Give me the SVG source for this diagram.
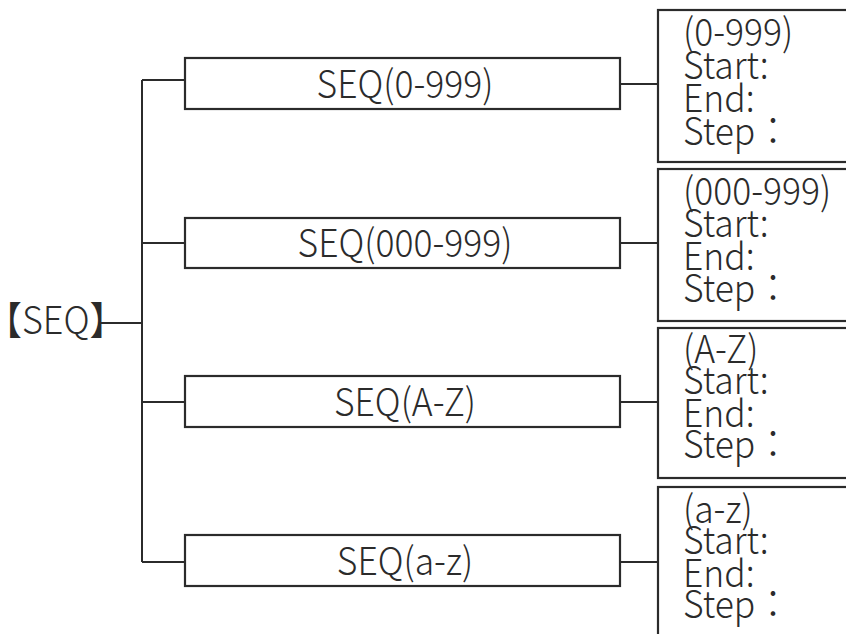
<svg xmlns="http://www.w3.org/2000/svg" width="846" height="634" viewBox="0 0 846 634">
<style>
text{font-family:"Noto Sans CJK JP","Noto Sans CJK SC","Noto Sans",sans-serif;fill:#2b2b2b;font-weight:300;}
.box{fill:#fff;stroke:#2b2b2b;stroke-width:2.2;}
.ln{fill:none;stroke:#2b2b2b;stroke-width:2;}
.lbl{font-size:35.5px;text-anchor:middle;}
.det{font-size:35.5px;}
.root{font-size:36px;}
</style>
<rect width="846" height="634" fill="#fff"/>
<g id="connectors">
<path class="ln" d="M100 323H142M142 80V562M142 80H185M142 243H185M142 402H185M142 562H185"/>
<path class="ln" d="M620 84H658M620 243H658M620 402H658M620 562H658"/>
</g>
<g id="root"><text class="root" transform="matrix(1,0,0,1.08,-14,334)">【SEQ】</text></g>
<g id="seq1"><rect class="box" x="185" y="58" width="435" height="51"/><text class="lbl" transform="matrix(1,0,0,1.08,405,98)">SEQ(0-999)</text></g>
<g id="seq2"><rect class="box" x="185" y="218" width="435" height="50"/><text class="lbl" transform="matrix(1,0,0,1.08,405,257)">SEQ(000-999)</text></g>
<g id="seq3"><rect class="box" x="185" y="376" width="435" height="51"/><text class="lbl" transform="matrix(1,0,0,1.08,405,416)">SEQ(A-Z)</text></g>
<g id="seq4"><rect class="box" x="185" y="535" width="435" height="51"/><text class="lbl" transform="matrix(1,0,0,1.08,405,575)">SEQ(a-z)</text></g>
<g id="det1"><rect class="box" x="658" y="10" width="200" height="152"/>
<text class="det" transform="matrix(1,0,0,1.08,683,46)">(0-999)</text>
<text class="det" transform="matrix(1,0,0,1.08,683,79)">Start:</text>
<text class="det" transform="matrix(1,0,0,1.08,683,112)">End:</text>
<text class="det" transform="matrix(1,0,0,1.08,683,145)">Step：</text></g>
<g id="det2"><rect class="box" x="658" y="169" width="200" height="152"/>
<text class="det" transform="matrix(1,0,0,1.08,683,205)">(000-999)</text>
<text class="det" transform="matrix(1,0,0,1.08,683,237)">Start:</text>
<text class="det" transform="matrix(1,0,0,1.08,683,270)">End:</text>
<text class="det" transform="matrix(1,0,0,1.08,683,302)">Step：</text></g>
<g id="det3"><rect class="box" x="658" y="328" width="200" height="150"/>
<text class="det" transform="matrix(1,0,0,1.08,683,363)">(A-Z)</text>
<text class="det" transform="matrix(1,0,0,1.08,683,394)">Start:</text>
<text class="det" transform="matrix(1,0,0,1.08,683,427)">End:</text>
<text class="det" transform="matrix(1,0,0,1.08,683,458)">Step：</text></g>
<g id="det4"><rect class="box" x="658" y="487" width="200" height="160"/>
<text class="det" transform="matrix(1,0,0,1.08,683,523)">(a-z)</text>
<text class="det" transform="matrix(1,0,0,1.08,683,554)">Start:</text>
<text class="det" transform="matrix(1,0,0,1.08,683,587)">End:</text>
<text class="det" transform="matrix(1,0,0,1.08,683,618)">Step：</text></g>
</svg>
